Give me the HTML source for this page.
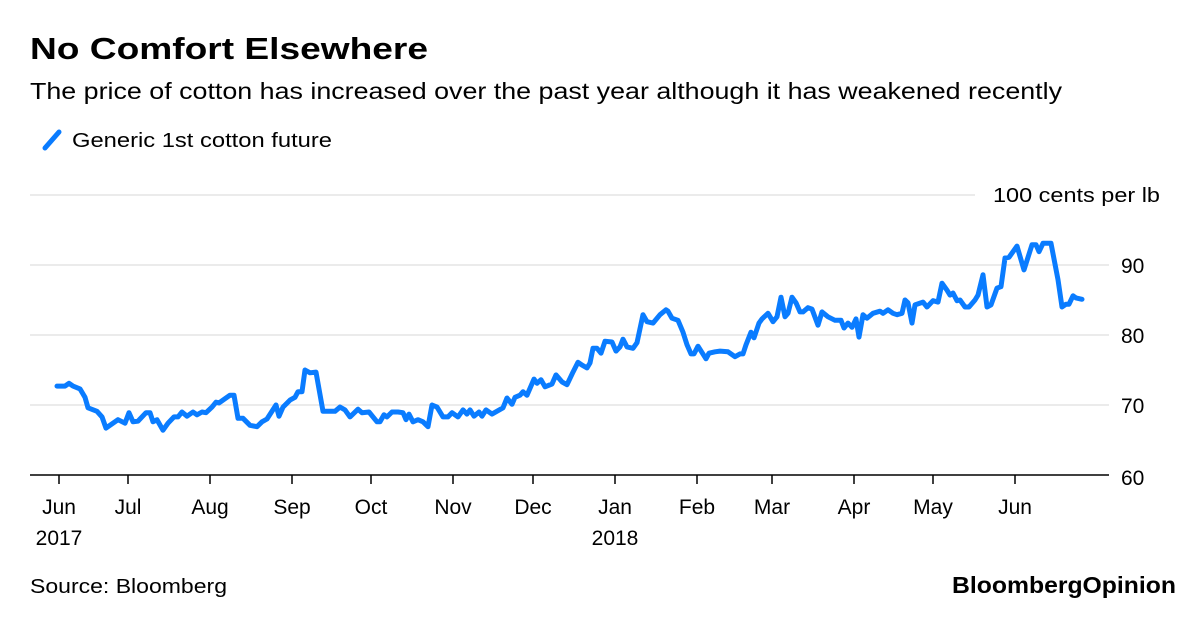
<!DOCTYPE html>
<html><head><meta charset="utf-8">
<style>
html,body{margin:0;padding:0;background:#fff;}
body{width:1200px;height:612px;overflow:hidden;font-family:"Liberation Sans",sans-serif;color:#000;}
svg text{font-family:"Liberation Sans",sans-serif;}
</style></head>
<body>
<svg id="chart" width="1200" height="612" viewBox="0 0 1200 612">
  <text x="30" y="59" font-size="31" font-weight="bold" textLength="398" lengthAdjust="spacingAndGlyphs">No Comfort Elsewhere</text>
  <text x="30" y="99" font-size="23" textLength="1032" lengthAdjust="spacingAndGlyphs">The price of cotton has increased over the past year although it has weakened recently</text>
  <g>
    <line x1="45" y1="148" x2="59" y2="132" stroke="#0a7cff" stroke-width="5" stroke-linecap="round"/>
    <text x="72" y="147" font-size="20" textLength="260" lengthAdjust="spacingAndGlyphs">Generic 1st cotton future</text>
  </g>
  <text x="993" y="202" font-size="20" textLength="167" lengthAdjust="spacingAndGlyphs">100 cents per lb</text>
  <g id="grid"></g>
  <g id="yticks"></g>
  <g id="xaxis"></g>
  <path id="line" fill="none" stroke="#0a7cff" stroke-width="5" stroke-linejoin="round" stroke-linecap="round"/>
  <text x="30" y="593" font-size="20" textLength="197" lengthAdjust="spacingAndGlyphs">Source: Bloomberg</text>
  <text x="952" y="593" font-size="23" font-weight="bold" textLength="224" lengthAdjust="spacingAndGlyphs">BloombergOpinion</text>
</svg>
<script>
const days=[0,2,3,4,5.75,7,7.75,10,11.25,12.25,15.25,17,18,19,20.25,22.25,23.25,24,25,26.5,27.75,29.25,30.25,31.25,32.5,34,35,36.25,37.25,38.75,39.75,40.5,42,43.25,44.25,45.25,46.5,48.25,50,51.25,52.5,54.75,55.5,56.5,58.25,59.5,60.25,61.25,62,63.25,64.75,66.5,69.5,70.75,72,73.25,75.25,76.25,78,80,80.75,81.75,82.5,83.75,85.25,86.5,87.25,88,89,90.25,91.5,92.75,93.75,95,96.5,97.75,98.75,100.25,101.5,102.5,103.25,104.25,105.5,106.25,107.25,108.75,111.5,112.5,113.75,114.5,115.75,116.5,117.5,119.25,120,121,122,123.75,124.75,126.25,127.5,129,130.25,131.25,132.5,133.25,134,135,136,137,138.75,139.75,140.75,141.5,142.5,144,145,146.5,147.5,149,150.75,152.25,152.75,153.75,155.25,156.5,157.5,158.5,159.25,160.25,162.25,163,164.5,165.75,167.75,169.5,170.75,171.5,172.25,173.5,174.25,175.5,176.25,177.75,179,180,181,182,182.75,183.75,184.75,185.75,186.5,187.75,188.75,190.25,191.25,192.75,194.5,196,196.75,197.75,198.75,199.75,200.5,201.5,202.5,204,205.75,206.5,207.75,209,210,211.25,212,212.75,213.75,214.5,216.5,217.5,219,220.25,221.25,222.5,223.25,224,225,225.75,227,228,229.5,230.25,231.5,232.5,233.5,235,236,237,238,240,241.75,243.75,244.75,245.5,246.5,248.5,250.25,251.25,252.25,253,254,254.75,256.25];
const prices=[72.7,72.7,73.1,72.7,72.3,71.1,69.6,69.1,68.3,66.7,67.9,67.4,68.9,67.6,67.7,68.9,68.9,67.6,67.9,66.4,67.4,68.3,68.3,69.0,68.4,69.0,68.6,69.0,68.9,69.7,70.4,70.3,70.9,71.4,71.4,68.1,68.1,67.1,66.9,67.6,68.0,70.0,68.4,69.7,70.7,71.1,71.9,71.9,75.0,74.6,74.7,69.1,69.1,69.7,69.3,68.3,69.4,68.9,69.0,67.6,67.6,68.6,68.3,69.0,69.0,68.9,67.9,68.7,67.6,67.9,67.6,66.9,70.0,69.7,68.3,68.3,68.9,68.3,69.3,68.7,69.3,68.4,69.0,68.4,69.3,68.7,69.6,71.0,70.1,71.1,71.4,71.9,71.4,73.7,73.1,73.6,72.6,73.0,74.3,73.3,72.9,74.7,76.1,75.7,75.3,76.0,78.1,78.1,77.4,79.1,79.0,77.7,78.3,79.4,78.3,78.1,78.9,82.9,81.9,81.7,82.9,83.6,83.4,82.4,82.1,80.4,78.6,77.3,77.3,78.4,76.6,77.4,77.6,77.7,77.6,76.9,77.3,77.3,78.6,80.4,79.6,81.7,82.3,83.1,81.9,82.6,85.4,82.6,83.1,85.4,84.6,83.3,83.3,83.9,83.7,81.4,83.3,82.6,82.1,82.1,81.0,81.7,81.1,82.3,79.7,82.9,82.4,83.1,83.4,83.1,83.6,83.1,82.9,83.1,85.0,84.6,81.7,84.3,84.7,84.0,84.9,84.7,87.4,86.4,85.7,86.0,84.9,85.0,84.0,84.0,85.0,85.7,88.6,84.0,84.3,86.7,86.9,91.0,91.1,92.7,89.3,92.9,92.9,91.9,93.1,93.1,87.9,84.0,84.4,84.4,85.6,85.3,85.1];
const monthLabels=["Jun","Jul","Aug","Sep","Oct","Nov","Dec","Jan","Feb","Mar","Apr","May","Jun"];
const monthDays=[0.5,17.75,38.25,58.75,78.5,99,119,139.5,160,178.75,199.25,219,239.5];
const yearLabels=["2017","2018"];
const yearTickIdx=[0,7];
const yTicks=[60,70,80,90,100];

const NS="http://www.w3.org/2000/svg";
const x=d=>57+d*4;
const y=v=>475-(v-60)*7;
function mk(tag,attrs,parent){const e=document.createElementNS(NS,tag);for(const k in attrs)e.setAttribute(k,attrs[k]);parent.appendChild(e);return e;}
const grid=document.getElementById('grid'),yt=document.getElementById('yticks'),xa=document.getElementById('xaxis');
yTicks.forEach(v=>{
  if(v>60){
    const g=mk('line',{x1:30,x2:v===100?975:1109,y1:y(v),y2:y(v),stroke:'#ebebeb','stroke-width':2},grid);
    
    
  }
  if(v<100){
    const t=mk('text',{x:1121,y:y(v)+(v===60?10:8),'font-size':21},yt);
    t.textContent=v;
    
    
  }
});
const ax=mk('line',{x1:30,x2:1109,y1:475,y2:475,stroke:'#000','stroke-width':1.5},xa);


monthDays.forEach((d,i)=>{
  const tk=mk('line',{x1:x(d),x2:x(d),y1:475,y2:484,stroke:'#000','stroke-width':1.5},xa);
  
  
  const t=mk('text',{x:x(d),y:514,'font-size':21,'text-anchor':'middle'},xa);
  t.textContent=monthLabels[i];
  
  
});
yearTickIdx.forEach((mi,i)=>{
  const t=mk('text',{x:x(monthDays[mi]),y:545,'font-size':21,'text-anchor':'middle'},xa);
  t.textContent=yearLabels[i];
  
  
});
document.getElementById('line').setAttribute('d',days.map((d,i)=>(i?'L':'M')+x(d).toFixed(1)+','+y(prices[i]).toFixed(1)).join(''));
</script>
</body></html>
